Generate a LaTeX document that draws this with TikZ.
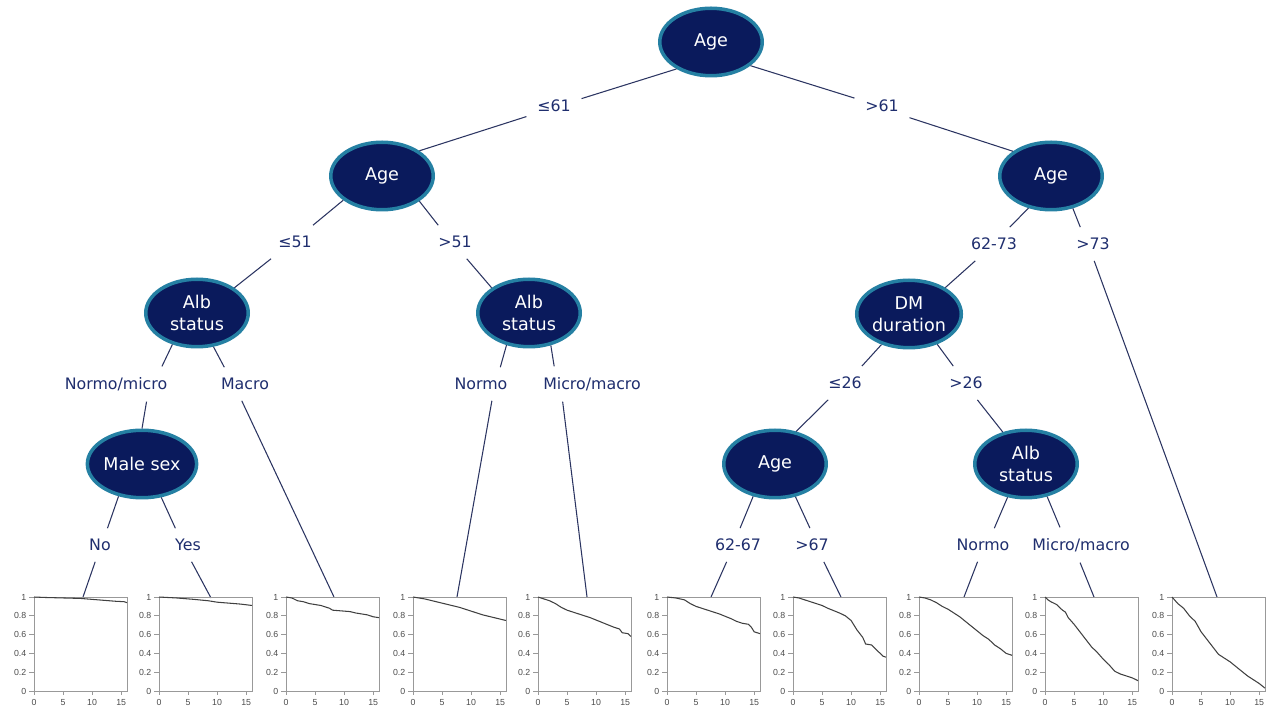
\documentclass[tikz,border=0pt]{standalone}
\usepackage{fontspec}
\setmainfont{DejaVu Sans}
\newfontfamily\plotfont{Liberation Sans}
\usetikzlibrary{shapes,positioning}

\definecolor{treenavy}{HTML}{0A1A5C}
\definecolor{treeteal}{HTML}{2580A3}
\definecolor{labnavy}{HTML}{1F2E6E}
\definecolor{edgenavy}{HTML}{2B3461}

\tikzset{
  split/.style={ellipse, draw=treeteal, line width=2pt, fill=treenavy, text=white,
    minimum width=2.05cm, minimum height=1.35cm, inner sep=0pt, align=center,
    font=\fontsize{10}{12.8}\selectfont},
  cond/.style={text=labnavy, font=\fontsize{9}{11}\selectfont, inner sep=6pt},
  branch/.style={draw=edgenavy, line width=0.6pt},
  kmframe/.style={draw=gray!80, line width=0.5pt},
  kmcurve/.style={draw=black!75, line width=0.6pt},
  kmtick/.style={font=\plotfont\fontsize{5}{6}\selectfont, text=black!70, inner sep=1.5pt},
}

% survival plot: #1 left edge, #2 curve
\newcommand{\kmplot}[2]{%
  \begin{scope}[shift={(#1,691)}]
    \begin{scope}[x=0.11625cm, y=1.88cm]
      \draw[kmframe] (0,0) rectangle (16,1);
      \foreach \t in {0,5,10,15}
        \draw[kmframe] (\t,0) -- (\t,-0.04) node[below, kmtick, yshift=-1pt] {\t};
      \foreach \v in {0,0.2,0.4,0.6,0.8,1}
        \draw[kmframe] (0,\v) -- (-0.8,\v) node[left, kmtick] {\v};
      \draw[kmcurve] plot coordinates {#2};
    \end{scope}
  \end{scope}}

\begin{document}
\begin{tikzpicture}[x=0.02cm, y=-0.02cm]
  \useasboundingbox (0,0) rectangle (1271,715);

  % Splits
  \node[split] (root) at (711,42) {Age};
  \node[split] (ageL) at (382,176) {Age};
  \node[split] (ageR) at (1051,176) {Age};
  \node[split] (albA) at (197,313) {Alb\\status};
  \node[split] (albB) at (529,313) {Alb\\status};
  \node[split] (dmdur) at (909,314) {DM\\duration};
  \node[split] (male) at (142,464) {Male sex};
  \node[split] (ageC) at (775,464) {Age};
  \node[split] (albC) at (1026,464) {Alb\\status};

  % Branch labels
  \node[cond] (le61) at (554,106) {≤61};
  \node[cond] (gt61) at (882,106) {>61};
  \node[cond] (le51) at (295,242) {≤51};
  \node[cond] (gt51) at (455,242) {>51};
  \node[cond] (r6273) at (994,244) {62-73};
  \node[cond] (gt73) at (1093,244) {>73};
  \node[cond] (normomicro) at (116,384) {Normo/micro};
  \node[cond] (macro) at (245,384) {Macro};
  \node[cond] (normoB) at (481,384) {Normo};
  \node[cond] (micromacroB) at (592,384) {Micro/macro};
  \node[cond] (le26) at (845,383) {≤26};
  \node[cond] (gt26) at (966,383) {>26};
  \node[cond] (no) at (100,545) {No};
  \node[cond] (yes) at (188,545) {Yes};
  \node[cond] (r6267) at (738,545) {62-67};
  \node[cond] (gt67) at (812,545) {>67};
  \node[cond] (normoC) at (983,545) {Normo};
  \node[cond] (micromacroC) at (1081,545) {Micro/macro};

  % Leaves
  \coordinate (km1) at (83,597);
  \coordinate (km2) at (211,598);
  \coordinate (km3) at (334,597);
  \coordinate (km4) at (457,597);
  \coordinate (km5) at (587,597);
  \coordinate (km6) at (711,597);
  \coordinate (km7) at (841,597);
  \coordinate (km8) at (964,597);
  \coordinate (km9) at (1094,597);
  \coordinate (km10) at (1217,597);

  % Branches
  \draw[branch] (root.218) -- (le61.15);   \draw[branch] (le61.201) -- (ageL.34);
  \draw[branch] (root.-31) -- (gt61.164);  \draw[branch] (gt61.-23) -- (ageR.147);
  \draw[branch] (ageL.212) -- (le51.43);   \draw[branch] (le51.215) -- (albA.34);
  \draw[branch] (ageL.-34) -- (gt51.135);  \draw[branch] (gt51.-55) -- (albB.146);
  \draw[branch] (ageR.235) -- (r6273.47);  \draw[branch] (r6273.222) -- (dmdur.36);
  \draw[branch] (ageR.-56) -- (gt73.127);  \draw[branch] (gt73.-86) -- (km10);
  \draw[branch] (albA.232) -- (normomicro.21);   \draw[branch] (normomicro.-30) -- (male.90);
  \draw[branch] (albA.-64) -- (macro.141);       \draw[branch] (macro.259) -- (km3);
  \draw[branch] (albB.235) -- (normoB.41);       \draw[branch] (normoB.-57) -- (km4);
  \draw[branch] (albB.-56) -- (micromacroB.155); \draw[branch] (micromacroB.211) -- (km5);
  \draw[branch] (dmdur.228) -- (le26.45);  \draw[branch] (le26.225) -- (ageC.57);
  \draw[branch] (dmdur.-47) -- (gt26.127); \draw[branch] (gt26.-56) -- (albC.126);
  \draw[branch] (male.234) -- (no.66);     \draw[branch] (no.254) -- (km1);
  \draw[branch] (male.-60) -- (yes.127);   \draw[branch] (yes.-78) -- (km2);
  \draw[branch] (ageC.236) -- (r6267.83);  \draw[branch] (r6267.236) -- (km6);
  \draw[branch] (ageC.-58) -- (gt67.97);   \draw[branch] (gt67.-55) -- (km7);
  \draw[branch] (albC.241) -- (normoC.56); \draw[branch] (normoC.252) -- (km8);
  \draw[branch] (albC.-57) -- (micromacroC.140); \draw[branch] (micromacroC.267) -- (km9);

  % Survival curves
  \kmplot{34}{(0,1) (2,0.995) (5,0.99) (8,0.985) (10,0.975) (12,0.965) (14,0.955) (15.5,0.95) (16,0.94)}
  \kmplot{159}{(0,1) (3,0.99) (6,0.975) (8.5,0.96) (10,0.945) (12,0.935) (14,0.925) (16,0.91)}
  \kmplot{286}{(0,1) (1,0.99) (2,0.96) (3,0.95) (4,0.93) (6,0.91) (7.5,0.88) (8,0.86) (10,0.85) (11,0.845) (12,0.83) (13,0.82) (14,0.81) (15,0.79) (16,0.78)}
  \kmplot{413}{(0,1) (2,0.98) (4,0.95) (6,0.92) (8,0.89) (10,0.85) (12,0.81) (14,0.78) (16,0.75)}
  \kmplot{538}{(0,1) (1,0.98) (2,0.96) (3,0.93) (4,0.89) (5,0.86) (7,0.82) (9,0.78) (11,0.73) (13,0.68) (14,0.66) (14.5,0.62) (15.5,0.61) (16,0.58)}
  \kmplot{667}{(0,1) (1.5,0.99) (3,0.97) (4,0.93) (5,0.9) (7,0.86) (9,0.82) (11,0.77) (12,0.74) (13,0.72) (14,0.71) (14.5,0.68) (15,0.63) (16,0.61)}
  \kmplot{793}{(0,1) (1,0.99) (2,0.97) (3,0.95) (5,0.91) (6,0.88) (8,0.83) (9,0.8) (10,0.75) (11,0.65) (12,0.57) (12.5,0.5) (13.5,0.49) (14.5,0.43) (15.5,0.37) (16,0.36)}
  \kmplot{919}{(0,1) (1,0.99) (2,0.97) (3,0.94) (4,0.9) (5,0.87) (6,0.83) (7,0.79) (8,0.74) (9,0.69) (10,0.64) (11,0.59) (12,0.55) (13,0.49) (14,0.45) (15,0.4) (16,0.38)}
  \kmplot{1045}{(0,1) (0.5,0.97) (1,0.95) (2,0.92) (3,0.86) (3.5,0.84) (4,0.78) (5,0.71) (6,0.63) (7,0.55) (8,0.47) (9,0.41) (10,0.34) (11,0.28) (12,0.21) (13,0.18) (14,0.16) (15,0.14) (16,0.11)}
  \kmplot{1172}{(0,1) (1,0.93) (2,0.88) (3,0.8) (4,0.74) (5,0.63) (6,0.55) (7,0.47) (8,0.39) (9,0.35) (10,0.31) (11,0.26) (12,0.21) (13,0.16) (14,0.12) (15,0.08) (16,0.03)}
\end{tikzpicture}
\end{document}
